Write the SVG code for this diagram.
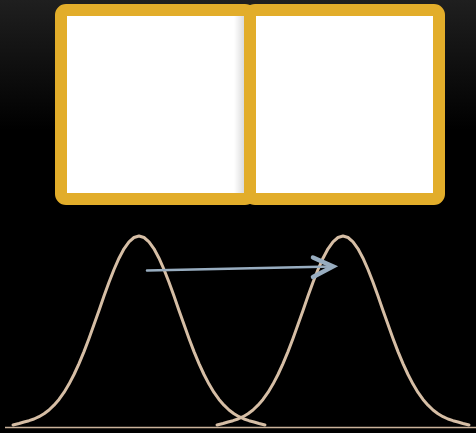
<svg xmlns="http://www.w3.org/2000/svg" width="476" height="433" viewBox="0 0 476 433">
  <defs>
    <linearGradient id="bg" x1="0" y1="0" x2="0" y2="1">
      <stop offset="0" stop-color="#1f1f1f"/>
      <stop offset="0.3" stop-color="#000"/>
      <stop offset="1" stop-color="#000"/>
    </linearGradient>
    <linearGradient id="shadow" x1="0" y1="0" x2="1" y2="0">
      <stop offset="0" stop-color="#000" stop-opacity="0"/>
      <stop offset="1" stop-color="#000" stop-opacity="0.14"/>
    </linearGradient>
  </defs>
  <style>
    .frame { fill: #ffffff; stroke: #e2ad2a; stroke-width: 12; }
    .curve { fill: none; stroke: #d6bea5; stroke-width: 3; stroke-linejoin: round; stroke-linecap: round; }
    .axis { stroke: #cbb39b; stroke-width: 1.6; }
    .arrow { fill: none; stroke: #98adc0; stroke-linecap: round; stroke-linejoin: miter; }
  </style>
  <rect x="0" y="0" width="476" height="433" fill="url(#bg)"/>

  <g id="box-left">
    <rect class="frame" x="61" y="10" width="189" height="189" rx="5"/>
  </g>
  <g id="box-right">
    <rect x="234" y="16" width="10" height="177" fill="url(#shadow)"/>
    <rect class="frame" x="250" y="10" width="189" height="189" rx="5"/>
  </g>

  <g id="axis">
    <line class="axis" x1="5" y1="427.5" x2="476" y2="427.5"/>
  </g>

  <g id="curve-left">
    <polyline class="curve" points="13,425 19,423.5 24,422 29,420.7 34,419 39,416.7 44,413.7 49,410 54,405.2 59,399.4 64,392.4 69,384.1 74,374.5 79,363.6 84,351.6 89,338.5 94,324.6 99,310.4 104,296.1 109,282.3 114,269.5 119,258.2 124,248.8 129,241.8 134,237.5 139,236 144,237.5 149,241.8 154,248.8 159,258.2 164,269.5 169,282.3 174,296.1 179,310.4 184,324.6 189,338.5 194,351.6 199,363.6 204,374.5 209,384.1 214,392.4 219,399.4 224,405.2 229,410 234,413.7 239,416.7 244,419 249,420.7 254,422 259,423.5 265,425"/>
  </g>
  <g id="curve-right">
    <polyline class="curve" points="217,425 223,423.5 228,422 233,420.7 238,419 243,416.7 248,413.7 253,410 258,405.2 263,399.4 268,392.4 273,384.1 278,374.5 283,363.6 288,351.6 293,338.5 298,324.6 303,310.4 308,296.1 313,282.3 318,269.5 323,258.2 328,248.8 333,241.8 338,237.5 343,236 348,237.5 353,241.8 358,248.8 363,258.2 368,269.5 373,282.3 378,296.1 383,310.4 388,324.6 393,338.5 398,351.6 403,363.6 408,374.5 413,384.1 418,392.4 423,399.4 428,405.2 433,410 438,413.7 443,416.7 448,419 453,420.7 458,422 463,423.5 469,425"/>
  </g>

  <g id="connectors">
    <line class="arrow" x1="147" y1="270.5" x2="332" y2="266.5" stroke-width="2.5"/>
    <polyline class="arrow" points="313,257.5 333,266.5 313,277" stroke-width="4.5"/>
  </g>
</svg>
